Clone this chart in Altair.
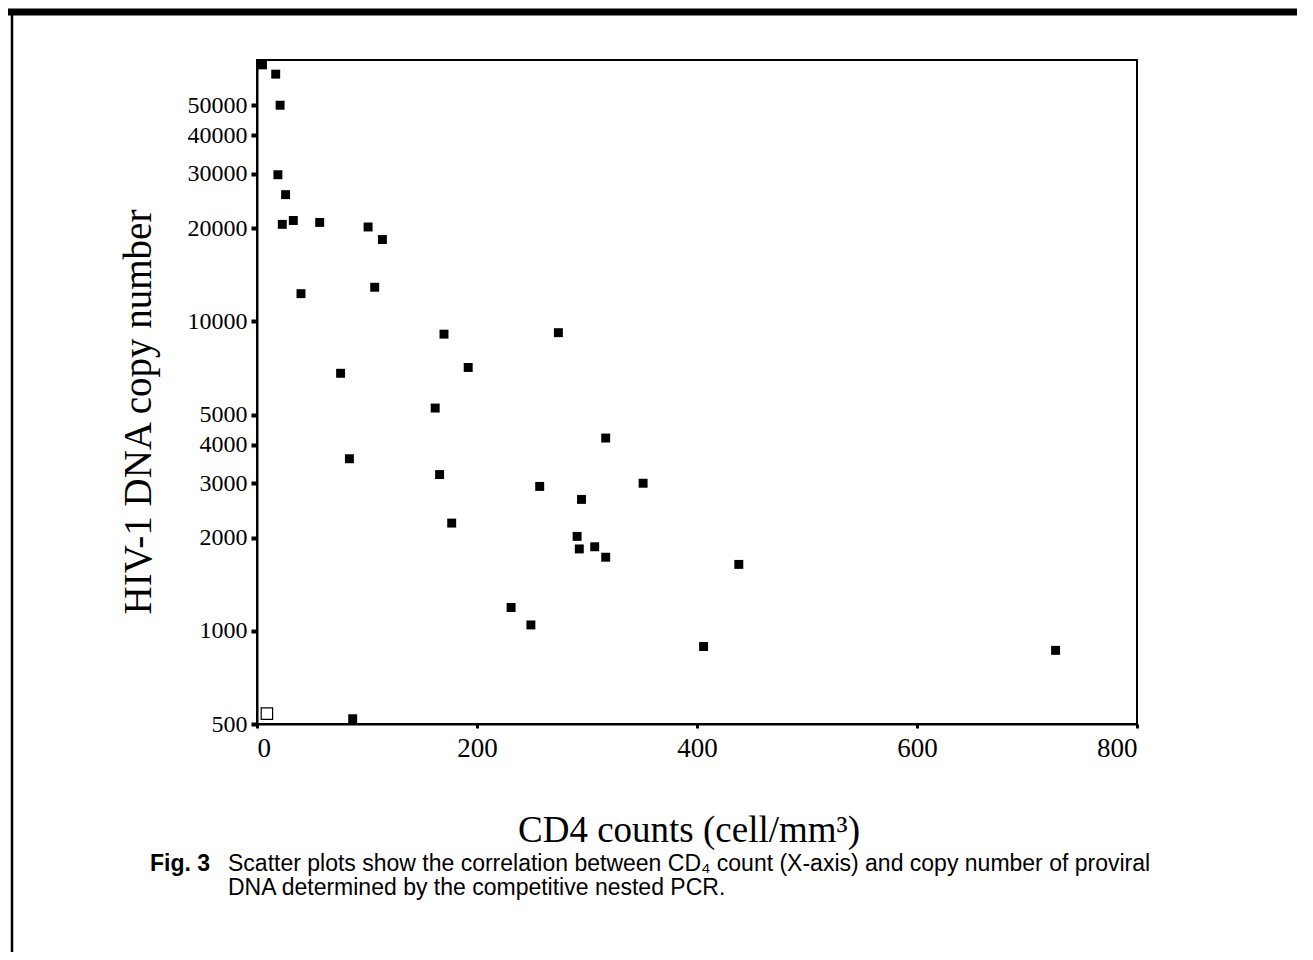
import altair as alt
import pandas as pd

# CD4 counts (cells/mm3) and HIV-1 DNA copy numbers
cd4 = [5, 17, 21, 19, 26, 23, 33, 57, 101, 114,
       40, 107, 170, 274, 76, 192, 162, 317, 84, 166,
       257, 351, 295, 177, 291, 293, 307, 317, 438, 231,
       249, 406, 726, 87]
copies = [67500, 63000, 50000, 29800, 25700, 20600, 21200, 20900, 20200, 18400,
          12300, 12900, 9100, 9200, 6800, 7100, 5250, 4200, 3600, 3200,
          2930, 3000, 2660, 2230, 2020, 1840, 1870, 1730, 1640, 1190,
          1045, 890, 865, 520]
# open (hollow) marker
open_cd4 = [9]
open_copies = [540]

y_ticks = [500, 1000, 2000, 3000, 4000, 5000, 10000, 20000, 30000, 40000, 50000]
x_ticks = [0, 200, 400, 600, 800]

x_title = "CD4 counts (cell/mm³)"
y_title = "HIV-1 DNA copy number"
cap_fig = "Fig. 3"
cap_line1 = "Scatter plots show the correlation between CD₄ count (X-axis) and copy number of proviral"
cap_line2 = "DNA determined by the competitive nested PCR."

df = pd.DataFrame({"cd4": cd4, "copies": copies})
df_open = pd.DataFrame({"cd4": open_cd4, "copies": open_copies})
one = pd.DataFrame({"k": [0]})

W, H = 880, 664
SERIF = "Liberation Serif"
SANS = "Liberation Sans"

xs = alt.Scale(domain=[0, 800], nice=False, zero=False)
ys = alt.Scale(type="log", domain=[500, 70000], nice=False)

x_enc = alt.X("cd4:Q", scale=xs,
              axis=alt.Axis(values=x_ticks, title=None, format="d", labelFontSize=27,
                            labelPadding=7, tickSize=4, tickWidth=3, labelFont=SERIF))
y_enc = alt.Y("copies:Q", scale=ys,
              axis=alt.Axis(values=y_ticks, title=None, format="d", labelFontSize=24,
                            labelPadding=4, tickSize=6, tickWidth=4, labelFont=SERIF))

pts = alt.Chart(df).mark_point(shape="square", filled=True, color="black",
                               size=80, opacity=1).encode(x=x_enc, y=y_enc)

open_pt = alt.Chart(df_open).mark_point(shape="square", filled=False, stroke="black",
                                        strokeWidth=1.2, size=130, opacity=1).encode(
    x="cd4:Q", y="copies:Q")

xtitle = alt.Chart(one).mark_text(font=SERIF, fontSize=37, color="black",
                                  align="center", baseline="middle").encode(
    x=alt.value(432), y=alt.value(771), text=alt.value(x_title))

ytitle = alt.Chart(one).mark_text(font=SERIF, fontSize=39, color="black", angle=270,
                                  align="center", baseline="middle").encode(
    x=alt.value(-118), y=alt.value(352), text=alt.value(y_title))

fig = alt.Chart(one).mark_text(font=SANS, fontSize=23, fontWeight="bold", color="black",
                               align="left", baseline="middle").encode(
    x=alt.value(-107), y=alt.value(804), text=alt.value(cap_fig))

c1 = alt.Chart(one).mark_text(font=SANS, fontSize=23, color="black",
                              align="left", baseline="middle").encode(
    x=alt.value(-29), y=alt.value(804), text=alt.value(cap_line1))
c2 = alt.Chart(one).mark_text(font=SANS, fontSize=23, color="black",
                              align="left", baseline="middle").encode(
    x=alt.value(-29), y=alt.value(828), text=alt.value(cap_line2))

top_rule = alt.Chart(one).mark_rule(color="black", strokeWidth=7).encode(
    x=alt.value(-249), x2=alt.value(1040), y=alt.value(-48))
left_rule = alt.Chart(one).mark_rule(color="black", strokeWidth=2.5).encode(
    x=alt.value(-245), y=alt.value(-51), y2=alt.value(892))

chart = alt.layer(pts, open_pt, xtitle, ytitle, fig, c1, c2, top_rule, left_rule).properties(
    width=W, height=H,
    autosize=alt.AutoSizeParams(type="none"),
    padding={"left": 249, "top": 52, "right": 168, "bottom": 228},
    background="white",
).configure_view(stroke="black", strokeWidth=2).configure_axis(
    grid=False, domainColor="black", domainWidth=2, tickColor="black",
    labelColor="black"
)

chart.save("out.html", embed_options={"renderer": "svg", "actions": False})
